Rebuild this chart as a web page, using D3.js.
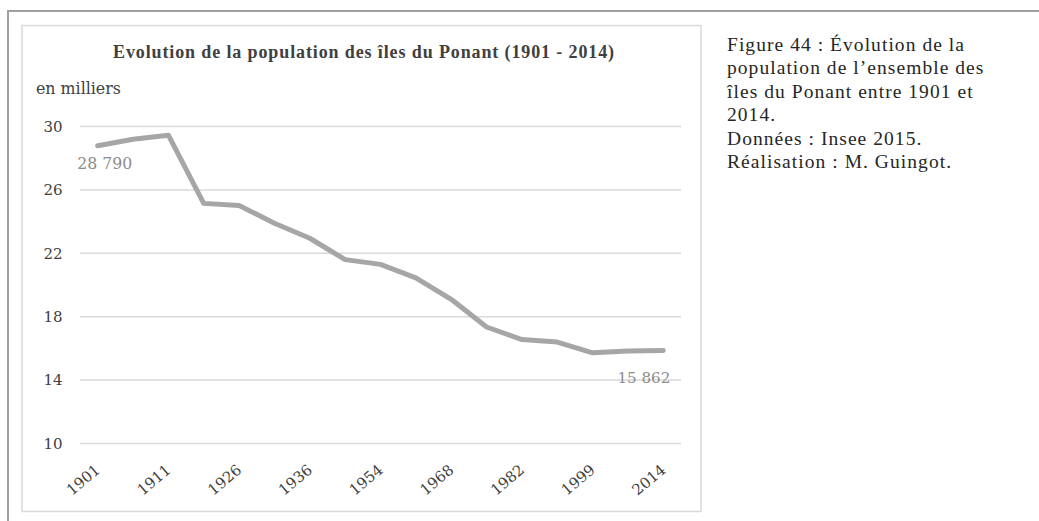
<!DOCTYPE html>
<html>
<head>
<meta charset="utf-8">
<script src="https://cdn.jsdelivr.net/npm/d3@7"></script>
<style>
  html, body { margin: 0; padding: 0; background: #fff; }
  svg { display: block; }
</style>
</head>
<body>
<svg id="chart" width="1039" height="521"></svg>
<script>
const years = ["1901","1906","1911","1921","1926","1931","1936","1946","1954","1962","1968","1975","1982","1990","1999","2009","2014"];
const population = [28.79, 29.2, 29.45, 25.15, 25.02, 23.9, 22.95, 21.6, 21.3, 20.45, 19.1, 17.35, 16.56, 16.4, 15.72, 15.84, 15.862];
const tickYears = ["1901","1911","1926","1936","1954","1968","1982","1999","2014"];
const yTicks = [10, 14, 18, 22, 26, 30];
const labelFirst = "28 790";
const labelLast = "15 862";
const title = "Evolution de la population des îles du Ponant (1901 - 2014)";
const unitLabel = "en milliers";
const caption = ["Figure 44 : Évolution de la", "population de l’ensemble des", "îles du Ponant entre 1901 et", "2014.", "Données : Insee 2015.", "Réalisation : M. Guingot."];

const svg = d3.select("#chart");
const serif = "'DejaVu Serif', serif";
const times = "'Liberation Serif', serif";

// fit a text element's font size so that its width matches a target
function fit(sel, target) {
  const fs = parseFloat(sel.attr("font-size"));
  const w = sel.node().getComputedTextLength();
  sel.attr("font-size", (fs * target / w).toFixed(2));
}
// fit via letter spacing
function spread(sel, target) {
  const node = sel.node();
  const w = node.getComputedTextLength();
  const n = node.textContent.length;
  sel.attr("letter-spacing", ((target - w) / n).toFixed(3));
}

// outer frame (top and left edges)
svg.append("path").attr("d", "M8,521 L8,11 L1039,11")
  .attr("fill", "none").attr("stroke", "#a0a0a0").attr("stroke-width", 2);

// inner chart box
svg.append("rect").attr("x", 22).attr("y", 25.5).attr("width", 679).attr("height", 486)
  .attr("fill", "#fff").attr("stroke", "#d9d9d9").attr("stroke-width", 1.5);

const x = d3.scalePoint().domain(years).range([80, 681]).padding(0.5);
const y = d3.scaleLinear().domain([10, 30]).range([443.5, 126.5]);

// gridlines
svg.append("g").selectAll("line").data(yTicks).join("line")
  .attr("x1", 80).attr("x2", 681)
  .attr("y1", d => y(d)).attr("y2", d => y(d))
  .attr("stroke", "#d9d9d9").attr("stroke-width", 1.5);

// y axis labels
const yAxis = d3.axisLeft(y).tickValues(yTicks).tickSize(0).tickPadding(0);
const gy = svg.append("g").attr("transform", "translate(62.5,0)").call(yAxis);
gy.select(".domain").remove();
gy.selectAll("text").attr("font-family", serif).attr("font-size", 15).attr("fill", "#404040");

// x axis labels
const xAxis = d3.axisBottom(x).tickValues(tickYears).tickSize(0).tickPadding(0);
const gx = svg.append("g").attr("transform", "translate(0,443.5)").call(xAxis);
gx.select(".domain").remove();
gx.selectAll("text")
  .attr("font-family", serif).attr("font-size", 15).attr("fill", "#404040")
  .attr("text-anchor", "end").attr("dy", null).attr("y", 0)
  .attr("transform", "translate(3,28) rotate(-40)");

// line
const line = d3.line().x((d, i) => x(years[i])).y(d => y(d));
svg.append("path").datum(population)
  .attr("d", line).attr("fill", "none")
  .attr("stroke", "#a6a6a6").attr("stroke-width", 5)
  .attr("stroke-linejoin", "round").attr("stroke-linecap", "round");

// data labels
const l1 = svg.append("text").attr("x", x(years[0]) - 20.5).attr("y", 169)
  .attr("font-family", serif).attr("font-size", 15)
  .attr("fill", "#8c8c8c").text(labelFirst);
fit(l1, 55);
const l2 = svg.append("text").attr("x", x(years[years.length - 1]) + 7).attr("y", 383)
  .attr("text-anchor", "end").attr("font-family", serif).attr("font-size", 15)
  .attr("fill", "#8c8c8c").text(labelLast);
fit(l2, 53);

// title
const t = svg.append("text").attr("x", 113).attr("y", 58)
  .attr("font-family", times).attr("font-weight", "bold").attr("font-size", 18)
  .attr("fill", "#404040").text(title);
spread(t, 502);

const u = svg.append("text").attr("x", 36).attr("y", 94)
  .attr("font-family", serif).attr("font-size", 15).attr("fill", "#404040").text(unitLabel);
fit(u, 85);

// caption
const capTargets = [238, 258, 250, 0, 0, 0];
const cap = svg.append("g").selectAll("text").data(caption).join("text")
  .attr("x", 727).attr("y", (d, i) => 51 + i * 23.4)
  .attr("font-family", times).attr("font-size", 19.5).attr("fill", "#262626")
  .text(d => d);
{
  const first = cap.filter((d, i) => i === 0);
  const w = first.node().getComputedTextLength();
  const ls = ((238 - w) / caption[0].length).toFixed(3);
  cap.attr("letter-spacing", ls);
}
</script>
</body>
</html>
